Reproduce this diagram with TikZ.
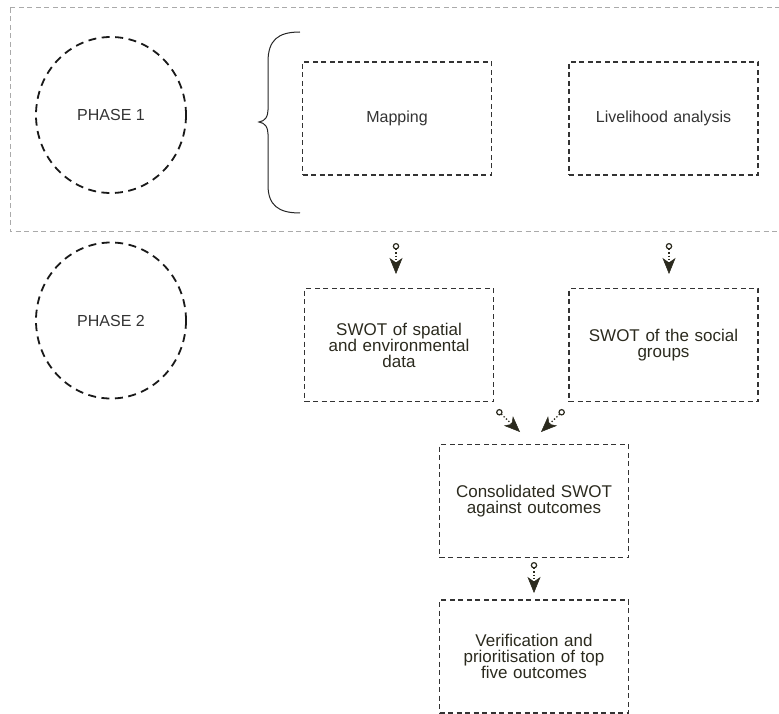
\documentclass[tikz,border=0pt]{standalone}
\usepackage{fontspec}
\setmainfont{Liberation Sans}
\usetikzlibrary{arrows.meta,shapes.geometric}
\definecolor{boxc}{HTML}{333333}
\definecolor{arrc}{HTML}{2B2A1E}
\definecolor{outc}{HTML}{AAAAAA}
\tikzset{
  outerbox/.style={draw=outc, line width=1pt, dash pattern=on 5pt off 3.5pt},
  phaseell/.style={draw=black!90, line width=1.8pt, dash pattern=on 8pt off 5.5pt, ellipse, minimum width=150pt, minimum height=156pt, inner sep=0pt, font=\fontsize{16}{18}\selectfont, text=boxc},
  stepbox/.style={draw=boxc, line width=1.2pt, dash pattern=on 5pt off 3.5pt, minimum width=189pt, minimum height=113pt, inner sep=0pt, align=center, text width=175pt},
  lightbox/.style={stepbox, font=\fontsize{16}{18}\selectfont, text=boxc},
  darkbox/.style={stepbox, font=\fontsize{17}{16}\selectfont, text=arrc},
  arr/.style={draw=arrc, line width=1.3pt, dotted, {Circle[open, length=6.5pt, width=6.5pt, line width=1.2pt, sep=0pt]}-{Stealth[length=16pt, width=13pt, inset=4.5pt, fill=arrc, line width=0.5pt]}}
}
\begin{document}
\begin{tikzpicture}[x=1pt, y=-1pt]
\useasboundingbox (0,0) rectangle (779,714);
\draw[outerbox] (10,8) rectangle (800,232);
\node[phaseell] (p1) at (111,115) {PHASE 1};
\node[phaseell] (p2) at (111,320.5) {PHASE 2};
\draw[line width=1pt, black!85] (300,32) .. controls (278,32) and (268,40) .. (268,62) -- (268,110) .. controls (268,117) and (265,121) .. (259,122) .. controls (265,123) and (268,127) .. (268,134) -- (268,185) .. controls (268,205) and (278,213) .. (300,213);
\node[lightbox] (map) at (397,118.5) {Mapping};
\node[lightbox] (live) at (663.5,118.5) {Livelihood analysis};
\node[darkbox] (sw1) at (399,345) {SWOT of spatial\\and environmental\\data};
\node[darkbox] (sw2) at (663.5,345) {SWOT of the social\\groups};
\node[darkbox] (cons) at (534,501) {Consolidated SWOT\\against outcomes};
\node[darkbox] (ver) at (534,656.5) {Verification and\\prioritisation of top\\five outcomes};
\coordinate (a1s) at (396,243); \coordinate (a1e) at (396,274);
\coordinate (a2s) at (669,243); \coordinate (a2e) at (669,274);
\coordinate (a3s) at (497,410); \coordinate (a3e) at (520,432);
\coordinate (a4s) at (564,410); \coordinate (a4e) at (541,432);
\coordinate (a5s) at (534,562); \coordinate (a5e) at (534,593);
\draw[arr] (a1s) -- (a1e);
\draw[arr] (a2s) -- (a2e);
\draw[arr] (a3s) -- (a3e);
\draw[arr] (a4s) -- (a4e);
\draw[arr] (a5s) -- (a5e);
\end{tikzpicture}
\end{document}
